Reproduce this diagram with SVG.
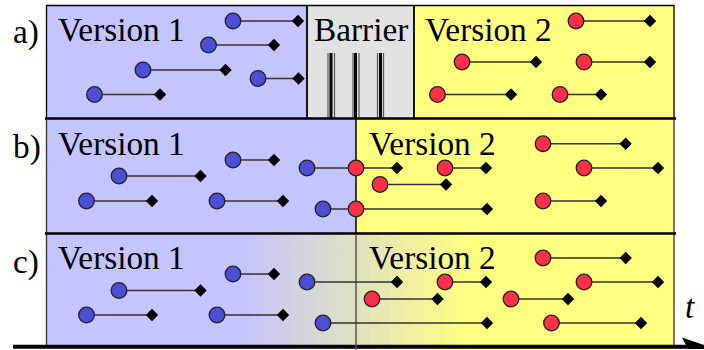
<svg xmlns="http://www.w3.org/2000/svg" xmlns:xlink="http://www.w3.org/1999/xlink" width="704" height="350" viewBox="0 0 704 350">
<style>
text{font-family:"Liberation Serif","Times New Roman",serif;fill:#000}
.t{font-size:33.300px}
.l{stroke:#333;stroke-width:1.500}
.k{fill:#000}
.b{fill:#4a4fd6;stroke:#222;stroke-width:1.300}
.r{fill:#f93048;stroke:#222;stroke-width:1.300}
</style>
<defs>
<linearGradient id="g" gradientUnits="userSpaceOnUse" x1="243" y1="0" x2="470" y2="0">
<stop offset="0" stop-color="#c4c4ff"/><stop offset="1" stop-color="#ffff80"/>
</linearGradient>
<path id="d" class="k" d="M-6.200 0L0-6.200L6.200 0L0 6.200Z"/>
<circle id="bc" class="b" r="7.800"/>
<circle id="rc" class="r" r="7.800"/>
</defs>
<g id="panel-a">
<rect x="47" y="6" width="260" height="112" fill="#c4c4ff"/>
<rect x="307" y="6" width="107" height="112" fill="#e2e2e2"/>
<rect x="414" y="6" width="260" height="112" fill="#ffff80"/>
<path d="M46.500 118V5.500H674V118" fill="none" stroke="#000" stroke-width="1.300"/>
<path d="M307 5V118M414 5V118" stroke="#000" stroke-width="1.800"/>
<g stroke="#000" stroke-width="1.200">
<path d="M328 53V120M334.500 53V120M353 53V120M359 53V120M377.500 53V120M383.500 53V120" stroke="#555"/>
<path d="M331 53V120M355.500 53V120M380.500 53V120" stroke-width="3"/>
</g>
<text class="t" x="58" y="41">Version 1</text>
<text class="t" x="314" y="41">Barrier</text>
<text class="t" x="425" y="41">Version 2</text>
</g>
<g id="panel-b">
<rect x="47" y="119" width="309" height="114" fill="#c4c4ff"/>
<rect x="356" y="119" width="318" height="114" fill="#ffff80"/>
<path d="M46.500 118V233M674 118V233" stroke="#333" stroke-width="1.300"/>
<path d="M356 118V233" stroke="#000" stroke-width="1.500"/>
<text class="t" x="58" y="155">Version 1</text>
<text class="t" x="369" y="155">Version 2</text>
</g>
<g id="panel-c">
<rect x="47" y="234" width="627" height="112" fill="url(#g)"/>
<path d="M46.500 233V347M674 233V347" stroke="#333" stroke-width="1.300"/>
<text class="t" x="58" y="269">Version 1</text>
<text class="t" x="369" y="269">Version 2</text>
</g>
<g id="rules" stroke="#000">
<path d="M45 118.500H676M45 233.500H676" stroke-width="2.600"/>
<path d="M13 346.700H690" stroke-width="4"/>
<path class="k" stroke="none" d="M682 337.500L704 345V349H688Z"/>
<path d="M356 234V350" stroke="#555" stroke-width="1.500"/>
</g>
<g id="labels">
<text class="t" x="13" y="43">a)</text>
<text class="t" x="13" y="158">b)</text>
<text class="t" x="13" y="273">c)</text>
<text class="t" x="685" y="318" font-style="italic">t</text>
</g>
<g id="connectors">
<path class="l" d="M233 21H298M208.500 45H274M143 70H225.500M258 78.500H298.500M94.500 94.500H160M576 21H650M462 62H536M584 62H650M437.500 94.500H511M560 94.500H601"/>
<path class="l" d="M233 160H274M119 176H200.500M86.500 201H152M217 201H283M307 168H397M323 209H487M543 143.700H625.700M445 168H486M584 168H658M380 184.500H446M543 201H601"/>
<path class="l" d="M233 274H274M119 290.500H200.500M86.500 315H152M217 315H283M307 282H397M323 323H487M543 258H625.700M445 282H486M584 282H658M372 299H437.500M511 299H568M551.500 323H641"/>
</g>
<g id="ends">
<use xlink:href="#d" x="298" y="21"/><use xlink:href="#d" x="274" y="45"/><use xlink:href="#d" x="225.500" y="70"/><use xlink:href="#d" x="298.500" y="78.500"/><use xlink:href="#d" x="160" y="94.500"/><use xlink:href="#d" x="650" y="21"/><use xlink:href="#d" x="536" y="62"/><use xlink:href="#d" x="650" y="62"/><use xlink:href="#d" x="511" y="94.500"/><use xlink:href="#d" x="601" y="94.500"/>
<use xlink:href="#d" x="274" y="160"/><use xlink:href="#d" x="200.500" y="176"/><use xlink:href="#d" x="152" y="201"/><use xlink:href="#d" x="283" y="201"/><use xlink:href="#d" x="397" y="168"/><use xlink:href="#d" x="487" y="209"/><use xlink:href="#d" x="625.700" y="143.700"/><use xlink:href="#d" x="486" y="168"/><use xlink:href="#d" x="658" y="168"/><use xlink:href="#d" x="446" y="184.500"/><use xlink:href="#d" x="601" y="201"/>
<use xlink:href="#d" x="274" y="274"/><use xlink:href="#d" x="200.500" y="290.500"/><use xlink:href="#d" x="152" y="315"/><use xlink:href="#d" x="283" y="315"/><use xlink:href="#d" x="397" y="282"/><use xlink:href="#d" x="487" y="323"/><use xlink:href="#d" x="625.700" y="258"/><use xlink:href="#d" x="486" y="282"/><use xlink:href="#d" x="658" y="282"/><use xlink:href="#d" x="437.500" y="299"/><use xlink:href="#d" x="568" y="299"/><use xlink:href="#d" x="641" y="323"/>
</g>
<g id="starts">
<use xlink:href="#bc" x="233" y="21"/><use xlink:href="#bc" x="208.500" y="45"/><use xlink:href="#bc" x="143" y="70"/><use xlink:href="#bc" x="258" y="78.500"/><use xlink:href="#bc" x="94.500" y="94.500"/>
<use xlink:href="#rc" x="576" y="21"/><use xlink:href="#rc" x="462" y="62"/><use xlink:href="#rc" x="584" y="62"/><use xlink:href="#rc" x="437.500" y="94.500"/><use xlink:href="#rc" x="560" y="94.500"/>
<use xlink:href="#bc" x="233" y="160"/><use xlink:href="#bc" x="119" y="176"/><use xlink:href="#bc" x="86.500" y="201"/><use xlink:href="#bc" x="217" y="201"/><use xlink:href="#bc" x="307" y="168"/><use xlink:href="#bc" x="323" y="209"/>
<use xlink:href="#rc" x="356" y="168"/><use xlink:href="#rc" x="356" y="209"/><use xlink:href="#rc" x="543" y="143.700"/><use xlink:href="#rc" x="445" y="168"/><use xlink:href="#rc" x="584" y="168"/><use xlink:href="#rc" x="380" y="184.500"/><use xlink:href="#rc" x="543" y="201"/>
<use xlink:href="#bc" x="233" y="274"/><use xlink:href="#bc" x="119" y="290.500"/><use xlink:href="#bc" x="86.500" y="315"/><use xlink:href="#bc" x="217" y="315"/><use xlink:href="#bc" x="307" y="282"/><use xlink:href="#bc" x="323" y="323"/>
<use xlink:href="#rc" x="543" y="258"/><use xlink:href="#rc" x="445" y="282"/><use xlink:href="#rc" x="584" y="282"/><use xlink:href="#rc" x="372" y="299"/><use xlink:href="#rc" x="511" y="299"/><use xlink:href="#rc" x="551.500" y="323"/>
</g>
</svg>
